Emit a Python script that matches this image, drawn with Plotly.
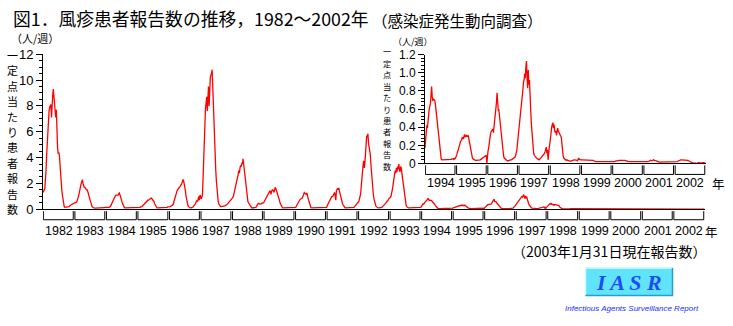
import plotly.graph_objects as go

# ---------------- data (weekly reports per sentinel) ----------------
years = list(range(1982, 2003))
year_labels = [str(y) for y in years]
main_yticks = [0, 2, 4, 6, 8, 10, 12]
inset_yticks = [0, 0.2, 0.4, 0.6, 0.8, 1.0, 1.2]
inset_yticktext = ["0", "0.2", "0.4", "0.6", "0.8", "1.0", "1.2"]

y1982 = [1.3, 1.5, 1.5, 1.6, 2.2, 3.0, 4.2, 5.3, 6.5, 6.9, 7.6, 7.9, 8.0, 8.1, 7.1, 8.4, 8.8, 9.3, 8.8, 8.0,
         7.5, 7.1, 7.7, 5.5, 4.8, 4.3, 4.4, 4.2, 3.3, 2.6, 2.0, 1.5, 1.1, 0.7, 0.3, 0.2, 0.15, 0.15, 0.15, 0.15,
         0.15, 0.2, 0.2, 0.2, 0.25, 0.3, 0.3, 0.35, 0.4, 0.4, 0.45, 0.45]
y1983 = [0.5, 0.5, 0.5, 0.55, 0.6, 0.7, 0.9, 1.1, 1.4, 1.6, 1.9, 2.0, 2.1, 2.3, 2.0, 1.8, 1.7, 1.7, 1.6, 1.6,
         1.5, 1.5, 1.4, 1.2, 1.0, 0.8, 0.6, 0.4, 0.3, 0.2, 0.15, 0.1, 0.08, 0.08, 0.08, 0.08, 0.08, 0.08, 0.08, 0.08,
         0.08, 0.08, 0.08, 0.1, 0.1, 0.1, 0.1, 0.12, 0.12, 0.12, 0.15, 0.15]
y1984 = [0.12, 0.12, 0.12, 0.12, 0.15, 0.15, 0.18, 0.2, 0.3, 0.4, 0.5, 0.7, 0.8, 0.9, 1.0, 1.05, 1.1, 1.1, 1.1, 1.15,
         1.1, 1.2, 1.25, 1.1, 1.0, 0.8, 0.6, 0.45, 0.3, 0.2, 0.15, 0.1, 0.1, 0.1, 0.1, 0.1, 0.1, 0.1, 0.1, 0.1,
         0.1, 0.1, 0.1, 0.1, 0.1, 0.1, 0.1, 0.1, 0.12, 0.12, 0.12, 0.12]
y1985 = [0.12, 0.12, 0.15, 0.15, 0.15, 0.18, 0.18, 0.2, 0.25, 0.3, 0.4, 0.45, 0.5, 0.55, 0.6, 0.6, 0.65, 0.7, 0.7, 0.75,
         0.75, 0.8, 0.85, 0.85, 0.8, 0.75, 0.7, 0.6, 0.45, 0.35, 0.2, 0.12, 0.1, 0.1, 0.1, 0.1, 0.1, 0.1, 0.1, 0.1,
         0.1, 0.1, 0.1, 0.1, 0.1, 0.12, 0.12, 0.12, 0.15, 0.15, 0.18, 0.18]
y1986 = [0.2, 0.2, 0.2, 0.25, 0.25, 0.3, 0.35, 0.4, 0.6, 0.8, 1.0, 1.1, 1.3, 1.4, 1.5, 1.6, 1.6, 1.7, 1.75, 1.8,
         1.9, 2.0, 2.1, 2.3, 2.2, 2.0, 1.8, 1.4, 1.0, 0.7, 0.45, 0.3, 0.2, 0.15, 0.1, 0.1, 0.1, 0.1, 0.12, 0.15,
         0.2, 0.25, 0.3, 0.4, 0.5, 0.6, 0.7, 0.6, 0.8, 1.0, 0.7, 1.1]
y1987 = [1.0, 0.8, 0.9, 1.1, 2.3, 4.0, 5.6, 6.9, 7.8, 8.2, 8.7, 7.6, 9.0, 9.5, 8.0, 9.8, 10.2, 10.4, 10.5, 10.8,
         9.4, 7.5, 6.0, 4.9, 4.0, 3.0, 2.2, 1.5, 1.0, 0.6, 0.4, 0.3, 0.2, 0.2, 0.2, 0.2, 0.2, 0.2, 0.2, 0.22,
         0.25, 0.3, 0.3, 0.35, 0.4, 0.45, 0.5, 0.55, 0.6, 0.65, 0.7, 0.75]
y1988 = [0.8, 0.9, 1.0, 1.2, 1.3, 1.5, 1.8, 2.0, 2.2, 2.5, 2.7, 3.0, 2.8, 3.2, 3.4, 3.3, 3.6, 3.5, 3.9, 3.5,
         3.1, 2.6, 2.2, 1.7, 1.1, 0.8, 0.6, 0.5, 0.4, 0.3, 0.2, 0.15, 0.12, 0.1, 0.1, 0.1, 0.1, 0.1, 0.12, 0.15,
         0.2, 0.3, 0.35, 0.45, 0.45, 0.4, 0.4, 0.4, 0.4, 0.45, 0.5, 0.5]
y1989 = [0.5, 0.6, 0.7, 0.8, 0.85, 0.9, 1.0, 1.2, 1.3, 1.35, 1.4, 1.4, 1.15, 1.4, 1.5, 1.5, 1.4, 1.3, 1.5, 1.7,
         1.6, 1.45, 1.4, 1.3, 1.1, 0.9, 0.7, 0.5, 0.4, 0.25, 0.15, 0.12, 0.1, 0.1, 0.1, 0.1, 0.1, 0.1, 0.1, 0.1,
         0.1, 0.1, 0.1, 0.1, 0.1, 0.1, 0.1, 0.1, 0.1, 0.1, 0.1, 0.1]
y1990 = [0.12, 0.15, 0.25, 0.35, 0.4, 0.5, 0.6, 0.65, 0.75, 0.8, 0.8, 0.85, 0.9, 1.0, 1.15, 1.3, 1.25, 1.2, 1.15, 1.25,
         1.15, 0.9, 0.7, 0.5, 0.35, 0.2, 0.12, 0.1, 0.1, 0.1, 0.1, 0.1, 0.1, 0.1, 0.1, 0.1, 0.1, 0.1, 0.1, 0.1,
         0.1, 0.1, 0.1, 0.1, 0.1, 0.1, 0.1, 0.1, 0.1, 0.1, 0.1, 0.1]
y1991 = [0.15, 0.3, 0.4, 0.5, 0.65, 0.75, 0.85, 0.9, 0.95, 1.0, 1.0, 1.1, 1.2, 1.3, 1.0, 0.7, 1.45, 1.5, 1.6, 1.55,
         1.65, 1.4, 1.15, 0.9, 0.75, 0.6, 0.45, 0.35, 0.25, 0.18, 0.12, 0.1, 0.1, 0.1, 0.1, 0.1, 0.1, 0.1, 0.1, 0.1,
         0.1, 0.1, 0.1, 0.1, 0.1, 0.15, 0.2, 0.25, 0.3, 0.35, 0.4, 0.45]
y1992 = [0.5, 0.6, 0.8, 1.0, 1.2, 1.8, 2.6, 3.0, 3.4, 3.75, 3.2, 3.6, 4.6, 5.3, 5.7, 5.6, 5.85, 5.1, 4.8, 4.6,
         4.2, 3.4, 2.6, 2.0, 1.5, 1.1, 0.8, 0.5, 0.35, 0.27, 0.2, 0.15, 0.1, 0.1, 0.1, 0.1, 0.1, 0.1, 0.1, 0.15,
         0.2, 0.27, 0.3, 0.35, 0.4, 0.45, 0.5, 0.55, 0.6, 0.7, 0.75, 0.85]
y1993 = [0.85, 0.9, 1.0, 1.2, 1.4, 1.7, 2.1, 2.5, 2.9, 3.0, 2.8, 3.2, 2.9, 3.3, 3.1, 3.5, 3.0, 2.9, 3.3, 3.2,
         2.8, 2.4, 1.9, 1.5, 1.2, 0.8, 0.5, 0.3, 0.2, 0.15, 0.1, 0.1, 0.1, 0.1, 0.1, 0.1, 0.1, 0.1, 0.1, 0.1,
         0.1, 0.1, 0.1, 0.1, 0.1, 0.1, 0.12, 0.12, 0.12, 0.14, 0.15, 0.16]
y1994 = [0.17, 0.28, 0.36, 0.42, 0.39, 0.5, 0.55, 0.6, 0.63, 0.66, 0.75, 0.85, 0.74, 0.69, 0.71, 0.7, 0.7, 0.67, 0.6, 0.56,
         0.52, 0.45, 0.39, 0.3, 0.24, 0.15, 0.09, 0.05, 0.04, 0.04, 0.04, 0.04, 0.04, 0.04, 0.04, 0.04, 0.04, 0.04, 0.04, 0.04,
         0.04, 0.04, 0.045, 0.04, 0.045, 0.05, 0.05, 0.05, 0.04, 0.06, 0.05, 0.06]
y1995 = [0.08, 0.1, 0.12, 0.13, 0.15, 0.18, 0.21, 0.24, 0.25, 0.26, 0.29, 0.28, 0.27, 0.3, 0.32, 0.29, 0.3, 0.31, 0.3, 0.3,
         0.31, 0.27, 0.25, 0.2, 0.15, 0.11, 0.08, 0.06, 0.05, 0.045, 0.04, 0.04, 0.035, 0.035, 0.035, 0.035, 0.035, 0.04, 0.04, 0.04,
         0.04, 0.045, 0.05, 0.05, 0.055, 0.06, 0.07, 0.07, 0.08, 0.085, 0.09, 0.0]
y1996 = [0.11, 0.14, 0.17, 0.25, 0.29, 0.32, 0.35, 0.36, 0.37, 0.38, 0.34, 0.4, 0.46, 0.53, 0.6, 0.67, 0.78, 0.6, 0.59, 0.59,
         0.52, 0.46, 0.38, 0.32, 0.22, 0.16, 0.11, 0.08, 0.06, 0.05, 0.045, 0.04, 0.035, 0.03, 0.025, 0.03, 0.035, 0.04, 0.04, 0.04,
         0.04, 0.045, 0.05, 0.05, 0.055, 0.06, 0.07, 0.09, 0.12, 0.15, 0.22, 0.28]
y1997 = [0.34, 0.46, 0.52, 0.57, 0.64, 0.71, 0.76, 0.81, 0.9, 0.92, 0.99, 0.94, 1.06, 1.13, 0.95, 0.83, 1.03, 0.87, 0.92, 0.81,
         0.6, 0.45, 0.33, 0.24, 0.15, 0.11, 0.09, 0.08, 0.07, 0.06, 0.06, 0.05, 0.05, 0.04, 0.04, 0.045, 0.05, 0.06, 0.07, 0.08,
         0.085, 0.09, 0.1, 0.11, 0.13, 0.15, 0.18, 0.11, 0.15, 0.04, 0.15, 0.18]
y1998 = [0.22, 0.3, 0.36, 0.4, 0.43, 0.45, 0.39, 0.43, 0.36, 0.34, 0.36, 0.31, 0.35, 0.39, 0.36, 0.34, 0.33, 0.31, 0.3, 0.29,
         0.18, 0.13, 0.09, 0.06, 0.05, 0.04, 0.035, 0.035, 0.04, 0.04, 0.035, 0.03, 0.025, 0.025, 0.025, 0.025, 0.03, 0.035, 0.04, 0.04,
         0.04, 0.04, 0.04, 0.04, 0.04, 0.035, 0.03, 0.04, 0.06, 0.045, 0.04, 0.04]
y1999 = [0.04, 0.04, 0.04, 0.04, 0.04, 0.04, 0.04, 0.04, 0.04, 0.04, 0.04, 0.04, 0.04, 0.04, 0.04, 0.04, 0.04, 0.04, 0.035, 0.035,
         0.035, 0.03, 0.03, 0.025, 0.02, 0.02, 0.015, 0.015, 0.015, 0.015, 0.015, 0.015, 0.015, 0.015, 0.015, 0.015, 0.015, 0.015, 0.015, 0.015,
         0.015, 0.015, 0.015, 0.015, 0.015, 0.015, 0.015, 0.015, 0.015, 0.02, 0.02, 0.02]
y2000 = [0.015, 0.015, 0.02, 0.02, 0.02, 0.025, 0.025, 0.03, 0.03, 0.03, 0.03, 0.035, 0.035, 0.035, 0.04, 0.04, 0.04, 0.04, 0.04, 0.04,
         0.035, 0.035, 0.03, 0.03, 0.025, 0.025, 0.02, 0.02, 0.015, 0.015, 0.015, 0.015, 0.015, 0.015, 0.015, 0.015, 0.015, 0.015, 0.015, 0.015,
         0.015, 0.015, 0.015, 0.015, 0.015, 0.015, 0.015, 0.015, 0.015, 0.015, 0.015, 0.015]
y2001 = [0.015, 0.015, 0.015, 0.015, 0.015, 0.015, 0.015, 0.02, 0.02, 0.025, 0.03, 0.03, 0.035, 0.03, 0.035, 0.035, 0.04, 0.04, 0.035, 0.035,
         0.03, 0.03, 0.025, 0.025, 0.02, 0.02, 0.015, 0.015, 0.015, 0.015, 0.015, 0.015, 0.015, 0.015, 0.015, 0.015, 0.015, 0.015, 0.015, 0.015,
         0.015, 0.015, 0.015, 0.015, 0.015, 0.015, 0.015, 0.015, 0.015, 0.015, 0.015, 0.015]
y2002 = [0.015, 0.015, 0.02, 0.02, 0.02, 0.025, 0.03, 0.03, 0.035, 0.035, 0.04, 0.04, 0.04, 0.04, 0.04, 0.04, 0.04, 0.04, 0.04, 0.04,
         0.04, 0.04, 0.035, 0.03, 0.025, 0.02, 0.015, 0.01, 0.01, 0.007, 0.007, 0.005, 0.005, 0.003, 0.003, 0.002, 0.0, 0.0, 0.005, 0.015,
         0.012, 0.01, 0.007, 0.007, 0.007, 0.007, 0.01, 0.015, 0.01, 0.007, 0.007, 0.007]

weekly = [y1982, y1983, y1984, y1985, y1986, y1987, y1988, y1989, y1990, y1991, y1992,
          y1993, y1994, y1995, y1996, y1997, y1998, y1999, y2000, y2001, y2002]

title_text = "図1．風疹患者報告数の推移，1982～2002年"
subtitle_text = "（感染症発生動向調査）"
unit_text = "（人/週）"
ytitle_chars = "一定点当たり患者報告数"
note_text = "（2003年1月31日現在報告数）"
inset_start = 1994

# ---------------- build series ----------------
xs, ys = [], []
for yr, vals in zip(years, weekly):
    n = len(vals)
    for w, v in enumerate(vals):
        xs.append(yr + w / n)
        ys.append(v)
xi = [x for x in xs if x >= inset_start]
yi = [y for x, y in zip(xs, ys) if x >= inset_start]

W, H = 733, 326
def px(x):
    return x / W
def py(y):
    return 1 - y / H

FONT = "Liberation Sans, Noto Sans CJK JP, sans-serif"
JFONT = "Noto Sans CJK JP, sans-serif"

fig = go.Figure()
fig.add_trace(go.Scatter(x=xs, y=ys, mode="lines", line=dict(color="#ff0000", width=1.3),
                         xaxis="x", yaxis="y", hoverinfo="skip"))
fig.add_trace(go.Scatter(x=xi, y=yi, mode="lines", line=dict(color="#ff0000", width=1.3),
                         xaxis="x2", yaxis="y2", hoverinfo="skip"))

axis_common = dict(showgrid=False, zeroline=False, showline=True, linecolor="black", linewidth=1,
                   fixedrange=True)

fig.update_layout(
    width=W, height=H, margin=dict(l=0, r=0, t=0, b=0),
    paper_bgcolor="white", plot_bgcolor="rgba(0,0,0,0)", showlegend=False,
    font=dict(family=FONT, color="black", size=12),
    xaxis=dict(domain=[px(43), px(705)], range=[years[0], years[-1] + 1], anchor="y",
               ticks="", showticklabels=False, **axis_common),
    yaxis=dict(domain=[py(212), py(49.5)], range=[0, 12], anchor="x",
               tickvals=main_yticks, ticks="outside", ticklen=6, tickcolor="black", tickwidth=1,
               tickfont=dict(size=13, family=FONT),
               minor=dict(dtick=0.5, tick0=0, ticks="outside", ticklen=3, tickcolor="black", tickwidth=1, showgrid=False),
               **axis_common),
    xaxis2=dict(domain=[px(425), px(706)], range=[inset_start, years[-1] + 1], anchor="y2",
                ticks="", showticklabels=False, **axis_common),
    yaxis2=dict(domain=[py(164), py(50)], range=[0, 1.2], anchor="x2",
                tickvals=inset_yticks, ticktext=inset_yticktext, ticks="outside", ticklen=6,
                tickcolor="black", tickwidth=1, tickfont=dict(size=12, family=FONT),
                minor=dict(dtick=0.04, tick0=0, ticks="outside", ticklen=3, tickcolor="black", tickwidth=1, showgrid=False),
                **axis_common),
)

shapes = []
annotations = []

def brackets(xref, yrs, top, bot, label_y, fsize):
    for yr, lab in zip(yrs, [str(v) for v in yrs]):
        x0 = yr + 0.012
        x1 = yr + 1 - 0.04
        shapes.append(dict(type="path", xref=xref, yref="paper",
                           path=f"M {x0},{py(top)} L {x0},{py(bot)} L {x1},{py(bot)} L {x1},{py(top)}",
                           line=dict(color="black", width=1)))
        annotations.append(dict(text=lab, xref=xref, yref="paper", x=yr + 0.5, y=py(label_y),
                                xanchor="center", yanchor="middle", showarrow=False,
                                font=dict(size=fsize, family=FONT)))

brackets("x", years, 214, 223, 235, 12.5)
brackets("x2", [y for y in years if y >= inset_start], 166, 175.5, 185, 12.5)

def txt(text, x, y, size, xanchor="left", yanchor="middle", family=JFONT, color="black", **kw):
    annotations.append(dict(text=text, xref="paper", yref="paper", x=px(x), y=py(y),
                            xanchor=xanchor, yanchor=yanchor, showarrow=False,
                            font=dict(size=size, family=family, color=color), **kw))

def stacked(chars, x, y_first, y_last, size):
    n = len(chars)
    step = (y_last - y_first) / (n - 1)
    for i, ch in enumerate(chars):
        txt(ch, x, y_first + i * step, size, xanchor="center")

# year suffix
txt("年", 703, 235, 12.5)
txt("年", 710, 185, 12.5)

# titles
txt(title_text, 11, 12, 17.8)
txt(subtitle_text, 370, 14, 15.5)
txt(unit_text, 35, 33, 11, xanchor="center")
txt(unit_text, 413, 36.5, 9, xanchor="center")
stacked(ytitle_chars, 12, 50, 212, 11)
stacked(ytitle_chars, 387, 46.5, 166.5, 8.2)
txt(note_text, 708, 256, 14, xanchor="right")

# IASR logo
shapes.append(dict(type="rect", xref="paper", yref="paper", x0=px(585), x1=px(673), y0=py(303), y1=py(273),
                   fillcolor="#5fe4fb", line=dict(width=0)))
shapes.append(dict(type="path", xref="paper", yref="paper",
                   path=f"M {px(585.5)},{py(302.5)} L {px(585.5)},{py(273.5)} L {px(672.5)},{py(273.5)}",
                   line=dict(color="#d8fbff", width=1.5)))
shapes.append(dict(type="path", xref="paper", yref="paper",
                   path=f"M {px(585.5)},{py(302.5)} L {px(672.5)},{py(302.5)} L {px(672.5)},{py(273.5)}",
                   line=dict(color="#2a9fc4", width=1.5)))
txt("<b><i>I A S R</i></b>", 629, 288.5, 22, xanchor="center", family="Liberation Serif, DejaVu Serif, serif",
    color="#1f4cf0")
txt("<i>Infectious Agents Surveillance Report</i>", 632, 316, 8, xanchor="center",
    family="Liberation Sans Narrow, Liberation Sans, sans-serif", color="#1a2cff")

fig.update_layout(shapes=shapes, annotations=annotations)
fig.write_html("out.html")
